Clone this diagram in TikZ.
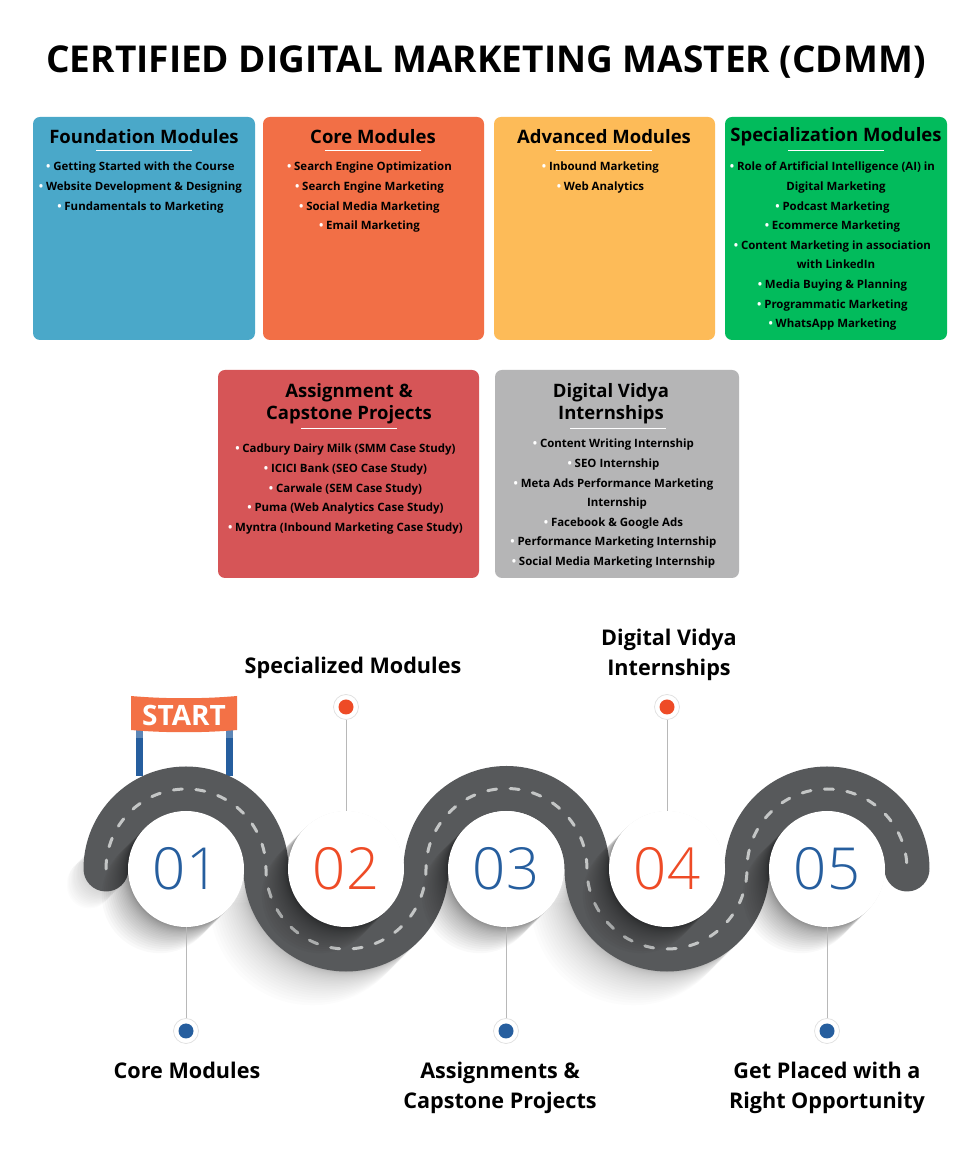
\documentclass[tikz,border=0pt]{standalone}
\usepackage{fontspec}
\setmainfont{Open Sans}
\newfontfamily\numfont{Open Sans Light}
\usetikzlibrary{calc}
\definecolor{roadgray}{HTML}{57595B}
\definecolor{dashgray}{HTML}{C4C6C6}
\definecolor{stemgray}{HTML}{B8B8B8}
\definecolor{pinblue}{HTML}{265E9E}
\definecolor{pinred}{HTML}{EE4B26}
\definecolor{bannerorange}{HTML}{F37146}
\definecolor{cardblue}{HTML}{4AA8C9}
\definecolor{cardorange}{HTML}{F26F46}
\definecolor{cardyellow}{HTML}{FDBB58}
\definecolor{cardgreen}{HTML}{02BB5C}
\definecolor{cardred}{HTML}{D65557}
\definecolor{cardgray}{HTML}{B5B5B6}
\newcommand{\itm}[1]{\llap{{\color{white}\fontsize{11.5}{11.5}\selectfont\raisebox{0pt}{•}}\hspace{2.8pt}}#1}
\tikzset{
    x=1pt, y=1pt,
    card/.style={rounded corners=7pt, inner sep=0pt},
    cardhead/.style={font=\fontsize{18.5}{22}\selectfont\bfseries, align=center, text=black, inner sep=0pt},
    cardbody/.style={font=\fontsize{11.45}{19.6}\selectfont\bfseries, align=center, text=black, inner sep=0pt, anchor=north},
    cardrule/.style={draw=white, line width=1pt},
    road/.style={draw=roadgray, line width=45pt, line cap=round},
    roadline/.style={draw=dashgray, line width=3pt, line cap=round, dash pattern=on 9pt off 13.6pt},
    stepdisc/.style={circle, fill=white, minimum size=116pt, inner sep=0pt, font=\fontsize{58}{58}\selectfont\numfont},
    dotpin/.style={circle, draw=black!12, fill=white, minimum size=25pt, inner sep=0pt, line width=.7pt,
        path picture={\fill[#1] (path picture bounding box.center) circle (7.5);}},
    stem/.style={draw=stemgray, line width=1pt},
    steplabel/.style={font=\fontsize{21.6}{30}\selectfont\bfseries, align=center, text=black, inner sep=0pt}
}
\begin{document}
\begin{tikzpicture}
    \useasboundingbox[fill=white] (0,0) rectangle (980,1176);
    \node[font=\fontsize{37}{42}\selectfont\bfseries, text=black, inner sep=0pt] (maintitle) at (486,1114) {CERTIFIED DIGITAL MARKETING MASTER (CDMM)};

    % top row
    \fill[card, cardblue] (33,836) rectangle (255,1059);
    \fill[card, cardorange] (263,836) rectangle (484,1059);
    \fill[card, cardyellow] (494,836) rectangle (715,1059);
    \fill[card, cardgreen] (725,836) rectangle (947,1059);
    \node[cardhead] (foundhead) at (144,1039) {Foundation Modules};
    \node[cardhead] (corehead) at (373,1039) {Core Modules};
    \node[cardhead] (advhead) at (604,1039) {Advanced Modules};
    \node[cardhead] (spechead) at (836,1039) {Specialization Modules};
    \draw[cardrule] (96,1025) -- (192,1025);
    \draw[cardrule] (325,1025) -- (421,1025);
    \draw[cardrule] (556,1025) -- (652,1025);
    \draw[cardrule] (788,1025) -- (884,1025);
    \node[cardbody] (foundbody) at (144,1014) {\itm{Getting Started with the Course}\\\itm{Website Development \& Designing}\\\itm{Fundamentals to Marketing}};
    \node[cardbody] (corebody) at (373,1014) {\itm{Search Engine Optimization}\\\itm{Search Engine Marketing}\\\itm{Social Media Marketing}\\\itm{Email Marketing}};
    \node[cardbody] (advbody) at (604,1014) {\itm{Inbound Marketing}\\\itm{Web Analytics}};
    \node[cardbody] (specbody) at (836,1014) {\itm{Role of Artificial Intelligence (AI) in}\\Digital Marketing\\\itm{Podcast Marketing}\\\itm{Ecommerce Marketing}\\\itm{Content Marketing in association}\\with LinkedIn\\\itm{Media Buying \& Planning}\\\itm{Programmatic Marketing}\\\itm{WhatsApp Marketing}};

    % second row
    \fill[card, cardred] (218,598) rectangle (479,806);
    \fill[card, cardgray] (495,598) rectangle (739,806);
    \node[cardhead] (assignhead) at (349,772) {Assignment \&\\Capstone Projects};
    \node[cardhead] (internhead) at (611,772) {Digital Vidya\\Internships};
    \draw[cardrule] (301,747) -- (397,747);
    \draw[cardrule] (570,747) -- (666,747);
    \node[cardbody] (assignbody) at (349,732) {\itm{Cadbury Dairy Milk (SMM Case Study)}\\\itm{ICICI Bank (SEO Case Study)}\\\itm{Carwale (SEM Case Study)}\\\itm{Puma (Web Analytics Case Study)}\\\itm{Myntra (Inbound Marketing Case Study)}};
    \node[cardbody] (internbody) at (617,737) {\itm{Content Writing Internship}\\\itm{SEO Internship}\\\itm{Meta Ads Performance Marketing}\\Internship\\\itm{Facebook \& Google Ads}\\\itm{Performance Marketing Internship}\\\itm{Social Media Marketing Internship}};

    % banner
    \fill[pinblue] (136,400) rectangle (143,446);
    \fill[pinblue] (226,400) rectangle (233,446);
    \fill[pinblue!75!white] (136,438) rectangle (143,446);
    \fill[pinblue!75!white] (226,438) rectangle (233,446);
    \fill[bannerorange] (131,480) .. controls (165,477) and (203,477) .. (237,480) -- (237,446) .. controls (203,443) and (165,443) .. (131,446) -- cycle;
    \node[font=\fontsize{28}{28}\selectfont\bfseries, text=white, inner sep=0pt] (startlabel) at (184,460) {START};

    % road with its shadow
    \foreach \s in {1,...,13}{
        \draw[black, opacity=.01, line width=45pt, line cap=round, shift={(-1.3*\s,-1.3*\s)}] (106,310) -- (106,307);
    }
    \foreach \s in {1,...,26}{
        \draw[black, opacity=.012, line width=45pt, shift={(-\s*\s/20,-\s*\s/20)}] (266,307) arc (180:360:80);
        \draw[black, opacity=.012, line width=45pt, shift={(-\s*\s/20,-\s*\s/20)}] (587,307) arc (180:360:80);
    }
    \draw[road] (106,307) arc (180:0:80) arc (180:360:80) arc (180:0:80.5) arc (180:360:80) arc (180:0:80);
    \draw[roadline] (106,307) arc (180:0:80) arc (180:360:80) arc (180:0:80.5) arc (180:360:80) arc (180:0:80);

    % discs
    \foreach \x in {186,346,506,667,827}{
        \foreach \s in {1,...,24}{
            \fill[black, opacity=.022] (\x-\s*\s/22,307-\s*\s/22) circle (58);
        }
    }
    \node[stepdisc, text=pinblue] (disca) at (186,307) {\raisebox{-2pt}{01}};
    \node[stepdisc, text=pinred] (discb) at (346,307) {\raisebox{-2pt}{02}};
    \node[stepdisc, text=pinblue] (discc) at (506,307) {\raisebox{-2pt}{03}};
    \node[stepdisc, text=pinred] (discd) at (667,307) {\raisebox{-2pt}{04}};
    \node[stepdisc, text=pinblue] (disce) at (827,307) {\raisebox{-2pt}{05}};

    % pins
    \node[dotpin=pinblue] (pina) at (186,145) {};
    \node[dotpin=pinred] (pinb) at (346,469) {};
    \node[dotpin=pinblue] (pinc) at (506,145) {};
    \node[dotpin=pinred] (pind) at (667,469) {};
    \node[dotpin=pinblue] (pine) at (827,145) {};
    \draw[stem] (disca) -- (pina);
    \draw[stem] (discb) -- (pinb);
    \draw[stem] (discc) -- (pinc);
    \draw[stem] (discd) -- (pind);
    \draw[stem] (disce) -- (pine);

    % labels
    \node[steplabel] (labela) at (187,106) {Core Modules};
    \node[steplabel] (labelb) at (353,508) {Specialized Modules};
    \node[steplabel] (labelc) at (500,88) {Assignments \&\\Capstone Projects};
    \node[steplabel] (labeld) at (669,521) {Digital Vidya\\Internships};
    \node[steplabel] (labele) at (827,88) {Get Placed with a\\Right Opportunity};
\end{tikzpicture}
\end{document}
